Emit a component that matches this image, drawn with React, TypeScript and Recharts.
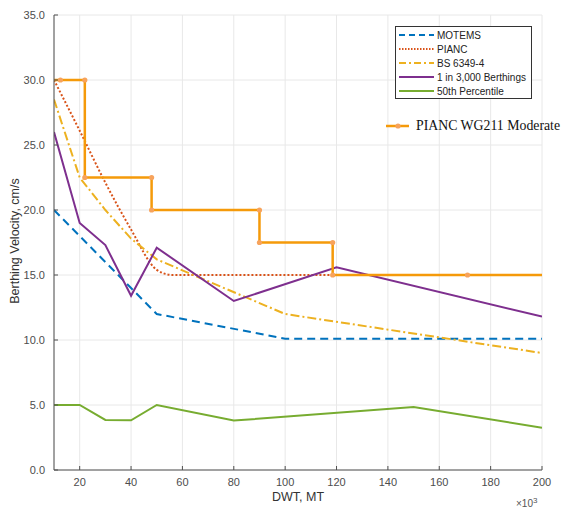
import { LineChart, Line, XAxis, YAxis, CartesianGrid } from "recharts";

const dwtTicks = [20, 40, 60, 80, 100, 120, 140, 160, 180, 200];
const velocityTicks = [0, 5, 10, 15, 20, 25, 30, 35];

const motems = [
  { dwt: 10, v: 20 },
  { dwt: 20, v: 18 },
  { dwt: 30, v: 16 },
  { dwt: 40, v: 14 },
  { dwt: 50, v: 12 },
  { dwt: 100, v: 10.1 },
  { dwt: 200, v: 10.1 },
];

const pianc = [
  { dwt: 10, v: 30 },
  { dwt: 20, v: 26.1 },
  { dwt: 30, v: 22.1 },
  { dwt: 40, v: 18.5 },
  { dwt: 50, v: 15.4 },
  { dwt: 56, v: 15 },
  { dwt: 200, v: 15 },
];

const bs6349 = [
  { dwt: 10, v: 28.5 },
  { dwt: 20, v: 22.5 },
  { dwt: 30, v: 20.0 },
  { dwt: 40, v: 17.8 },
  { dwt: 50, v: 16.2 },
  { dwt: 100, v: 12 },
  { dwt: 200, v: 9 },
];

const oneIn3000 = [
  { dwt: 10, v: 26 },
  { dwt: 20, v: 19 },
  { dwt: 30, v: 17.3 },
  { dwt: 40, v: 13.4 },
  { dwt: 50, v: 17.1 },
  { dwt: 80, v: 13 },
  { dwt: 120, v: 15.6 },
  { dwt: 200, v: 11.8 },
];

const percentile50 = [
  { dwt: 10, v: 5 },
  { dwt: 20, v: 5 },
  { dwt: 30, v: 3.85 },
  { dwt: 40, v: 3.82 },
  { dwt: 50, v: 5 },
  { dwt: 80, v: 3.8 },
  { dwt: 150, v: 4.85 },
  { dwt: 200, v: 3.25 },
];

const wg211 = [
  { dwt: 10, v: 30 },
  { dwt: 12.5, v: 30 },
  { dwt: 22, v: 30 },
  { dwt: 22, v: 22.5 },
  { dwt: 48, v: 22.5 },
  { dwt: 48, v: 20 },
  { dwt: 90, v: 20 },
  { dwt: 90, v: 17.5 },
  { dwt: 118.5, v: 17.5 },
  { dwt: 118.5, v: 15 },
  { dwt: 171, v: 15 },
  { dwt: 200, v: 15 },
];

const FONT = "'Liberation Sans', Arial, sans-serif";
const AXIS = "#505050";

const legendItems = [
  { name: "MOTEMS", color: "#0072BD", dash: "6 4" },
  { name: "PIANC", color: "#D95319", dash: "1.5 1.5" },
  { name: "BS 6349-4", color: "#EDB120", dash: "7 3 2 3" },
  { name: "1 in 3,000 Berthings", color: "#7E2F8E", dash: undefined },
  { name: "50th Percentile", color: "#77AC30", dash: undefined },
];

function WgDot(props: any) {
  const { cx, cy, index } = props;
  if (index === 0 || index === wg211.length - 1) return <g key={index} />;
  return <circle key={index} cx={cx} cy={cy} r={2.6} fill="#F7A35C" stroke="none" />;
}

export default function App() {
  return (
    <div style={{ position: "absolute", left: 0, top: 0, width: 561, height: 509, background: "#fff", overflow: "hidden" }}>
      <LineChart width={561} height={509} margin={{ top: 15, right: 19, left: 8, bottom: 9 }}>
        <CartesianGrid stroke="#e8e8e8" strokeWidth={1} />
        <XAxis
          dataKey="dwt"
          type="number"
          domain={[10, 200]}
          ticks={dwtTicks}
          interval={0}
          allowDataOverflow
          height={30}
          stroke={AXIS}
          tickSize={-4}
          tickMargin={12}
          tick={{ fill: "#4d4d4d", fontSize: 11, fontFamily: FONT }}
        />
        <YAxis
          type="number"
          domain={[0, 35]}
          ticks={velocityTicks}
          interval={0}
          width={46}
          stroke={AXIS}
          tickSize={-4}
          tickMargin={13}
          tickFormatter={(v: number) => v.toFixed(1)}
          tick={{ fill: "#4d4d4d", fontSize: 11, fontFamily: FONT }}
        />
        <Line data={motems} dataKey="v" stroke="#0072BD" strokeWidth={2} strokeDasharray="8 5" dot={false} isAnimationActive={false} />
        <Line data={pianc} type="monotone" dataKey="v" stroke="#D95319" strokeWidth={2} strokeDasharray="2 2" dot={false} isAnimationActive={false} />
        <Line data={bs6349} dataKey="v" stroke="#EDB120" strokeWidth={2} strokeDasharray="9 3 2 3" dot={false} isAnimationActive={false} />
        <Line data={oneIn3000} dataKey="v" stroke="#7E2F8E" strokeWidth={2} dot={false} isAnimationActive={false} />
        <Line data={percentile50} dataKey="v" stroke="#77AC30" strokeWidth={2} dot={false} isAnimationActive={false} />
        <Line data={wg211} dataKey="v" stroke="#F59A0A" strokeWidth={2.5} dot={WgDot} activeDot={false} isAnimationActive={false} />
      </LineChart>

      <div
        style={{
          position: "absolute",
          left: -80,
          top: 234,
          width: 190,
          textAlign: "center",
          transform: "rotate(-90deg)",
          fontFamily: FONT,
          fontSize: 12.5,
          color: "#333",
        }}
      >
        Berthing Velocity, cm/s
      </div>
      <div style={{ position: "absolute", left: 248, top: 490, width: 100, textAlign: "center", fontFamily: FONT, fontSize: 12.5, color: "#333" }}>
        DWT, MT
      </div>
      <div style={{ position: "absolute", left: 516, top: 496, fontFamily: FONT, fontSize: 10, color: "#555", whiteSpace: "nowrap" }}>
        ×10<sup style={{ fontSize: 8 }}>3</sup>
      </div>

      <div
        style={{
          position: "absolute",
          left: 395,
          top: 26,
          width: 137,
          height: 73,
          border: "1px solid #333",
          background: "#fff",
          boxSizing: "border-box",
          paddingTop: 1,
        }}
      >
        {legendItems.map((it) => (
          <div key={it.name} style={{ display: "flex", alignItems: "center", height: 14 }}>
            <svg width={38} height={10} style={{ marginLeft: 2 }}>
              <line x1={1} y1={5} x2={36} y2={5} stroke={it.color} strokeWidth={2} strokeDasharray={it.dash} />
            </svg>
            <span style={{ fontFamily: FONT, fontSize: 10, color: "#222", marginLeft: 1, whiteSpace: "nowrap" }}>{it.name}</span>
          </div>
        ))}
      </div>

      <div style={{ position: "absolute", left: 385, top: 117, display: "flex", alignItems: "center", whiteSpace: "nowrap" }}>
        <svg width={26} height={18}>
          <line x1={1} y1={9} x2={24} y2={9} stroke="#F59A0A" strokeWidth={2.5} />
          <circle cx={13} cy={9} r={2.6} fill="#F7A35C" />
        </svg>
        <span style={{ fontFamily: "'Liberation Serif', 'Times New Roman', serif", fontSize: 13.8, color: "#111", marginLeft: 5 }}>
          PIANC WG211 Moderate
        </span>
      </div>
    </div>
  );
}
